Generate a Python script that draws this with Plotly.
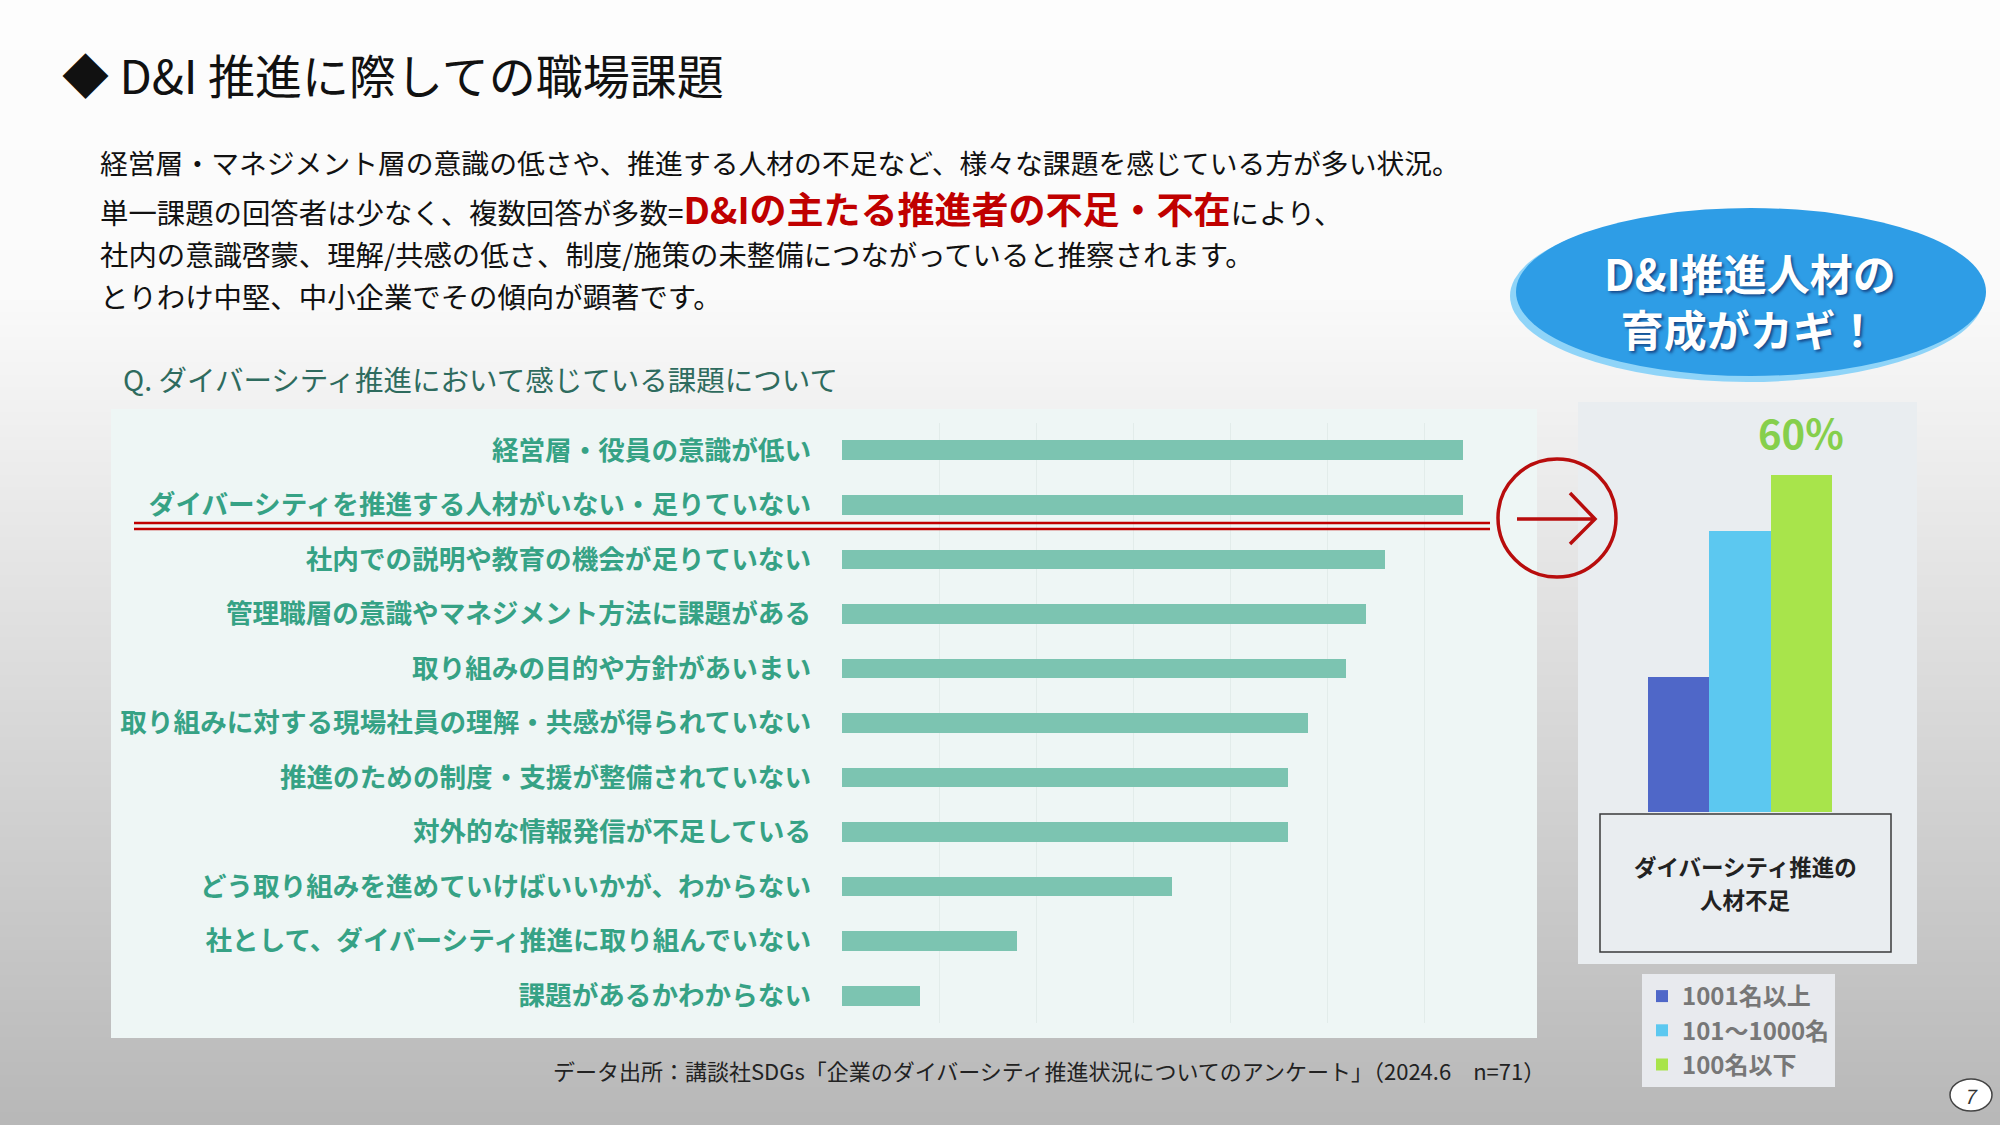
import plotly.graph_objects as go

W, H = 2000, 1125
FONT = "Noto Sans CJK JP"

# main chart: issues felt when promoting diversity (respondent counts, n=71)
issues = [
    "経営層・役員の意識が低い",
    "ダイバーシティを推進する人材がいない・足りていない",
    "社内での説明や教育の機会が足りていない",
    "管理職層の意識やマネジメント方法に課題がある",
    "取り組みの目的や方針があいまい",
    "取り組みに対する現場社員の理解・共感が得られていない",
    "推進のための制度・支援が整備されていない",
    "対外的な情報発信が不足している",
    "どう取り組みを進めていけばいいかが、わからない",
    "社として、ダイバーシティ推進に取り組んでいない",
    "課題があるかわからない",
]
issue_counts = [32, 32, 28, 27, 26, 24, 23, 23, 17, 9, 4]

# side chart: "lack of D&I staff" share by company size
size_groups = ["1001名以上", "101～1000名", "100名以下"]
size_share = [24, 50, 60]
size_colors = ["#4f67c8", "#5cc8f0", "#a8e44b"]


def X(px):
    return px / W


def Y(py):
    return 1 - py / H


fig = go.Figure()

fig.add_trace(go.Bar(
    x=issue_counts, y=issues, orientation="h", width=0.36,
    marker=dict(color="#7cc4b1", line=dict(width=0)),
    showlegend=False, hoverinfo="x+y"))

for grp, val, col in zip(size_groups, size_share, size_colors):
    fig.add_trace(go.Bar(
        x=[grp], y=[val], width=1, xaxis="x2", yaxis="y2", name=grp,
        marker=dict(color=col, line=dict(width=0))))

shapes = []
# page background: vertical grey gradient
n_band = 90
for i in range(n_band):
    y0 = i * H / n_band
    y1 = (i + 1) * H / n_band + 1
    ym = (y0 + y1) / 2
    if ym < 300:
        g = 253 - ym * 3 / 300
    else:
        g = 250 - (ym - 300) * 66 / 825
    g = int(round(g))
    shapes.append(dict(type="rect", xref="paper", yref="paper", x0=0, x1=1,
                       y0=Y(y1), y1=Y(y0), fillcolor=f"rgb({g},{g},{g})",
                       line=dict(width=0), layer="below"))

# chart panels
shapes.append(dict(type="rect", xref="paper", yref="paper", x0=X(111), x1=X(1537),
                   y0=Y(1038), y1=Y(409), fillcolor="#eef6f5", line=dict(width=0), layer="below"))
shapes.append(dict(type="rect", xref="paper", yref="paper", x0=X(1578), x1=X(1917),
                   y0=Y(964), y1=Y(402), fillcolor="#e9edf0", line=dict(width=0), layer="below"))
shapes.append(dict(type="rect", xref="paper", yref="paper", x0=X(1600), x1=X(1891),
                   y0=Y(952), y1=Y(814), fillcolor="rgba(0,0,0,0)",
                   line=dict(color="#3a3a3a", width=1.5)))

# red double underline + circled arrow
for yy in (523, 529):
    shapes.append(dict(type="line", xref="paper", yref="paper", x0=X(134), x1=X(1490),
                       y0=Y(yy), y1=Y(yy), line=dict(color="#c00000", width=2.5)))
shapes.append(dict(type="circle", xref="paper", yref="paper", x0=X(1498), x1=X(1616),
                   y0=Y(577), y1=Y(459), line=dict(color="#b80d0d", width=3.5)))
shapes.append(dict(type="path", xref="paper", yref="paper",
                   path=f"M{X(1517)},{Y(519)} L{X(1595)},{Y(519)} "
                        f"M{X(1570)},{Y(493)} L{X(1595)},{Y(519)} L{X(1570)},{Y(544)}",
                   line=dict(color="#b80d0d", width=3.5)))

# blue callout ellipse
shapes.append(dict(type="circle", xref="paper", yref="paper", x0=X(1510), x1=X(1984),
                   y0=Y(382), y1=Y(210), fillcolor="#8fd4f8", line=dict(width=0)))
shapes.append(dict(type="circle", xref="paper", yref="paper", x0=X(1516), x1=X(1986),
                   y0=Y(376), y1=Y(208), fillcolor="#2e9de6", line=dict(width=0)))

# page number
shapes.append(dict(type="circle", xref="paper", yref="paper", x0=X(1950), x1=X(1992),
                   y0=Y(1111), y1=Y(1079), fillcolor="white", line=dict(color="#444", width=1.5)))


def note(text, px, py, size, color="#111", xanchor="left", **kw):
    return dict(text=text, x=X(px), y=Y(py), xref="paper", yref="paper",
                xanchor=xanchor, yanchor="middle", showarrow=False,
                font=dict(size=size, color=color, **kw))


annotations = [
    note("◆ D&I 推進に際しての職場課題", 60, 73, 47),
    note("経営層・マネジメント層の意識の低さや、推進する人材の不足など、様々な課題を感じている方が多い状況。",
         98, 162, 27.8),
    note("単一課題の回答者は少なく、複数回答が多数="
         "<span style='color:#c00000;font-size:37px'><b>D&Iの主たる推進者の不足・不在</b></span>により、",
         98, 208, 28.4),
    note("社内の意識啓蒙、理解/共感の低さ、制度/施策の未整備につながっていると推察されます。", 98, 253, 28.4),
    note("とりわけ中堅、中小企業でその傾向が顕著です。", 98, 295, 28.4),
    note("Q. ダイバーシティ推進において感じている課題について", 121, 378, 28.5, color="#2e6b5e"),
    note("データ出所：講談社SDGs「企業のダイバーシティ推進状況についてのアンケート」（2024.6　n=71）",
         1547, 1070, 22, color="#222", xanchor="right"),
    note("<b>D&I推進人材の<br>育成がカギ！</b>", 1750, 300, 43, color="white", xanchor="center",
         shadow="2px 2px 3px rgba(0,0,60,0.55)"),
    note("<b>ダイバーシティ推進の</b>", 1745, 866, 22.5, color="#222", xanchor="center"),
    note("<b>人材不足</b>", 1745, 899, 22.5, color="#222", xanchor="center"),
    note("<i>7</i>", 1971, 1095, 20, color="#333", xanchor="center"),
    dict(text="<b>60%</b>", x=size_groups[2], y=size_share[2], xref="x2", yref="y2",
         xanchor="center", yanchor="bottom", yshift=12,
         font=dict(size=40, color="#86cf4c"), showarrow=False),
]

fig.update_layout(
    width=W, height=H,
    margin=dict(l=0, r=0, t=0, b=0),
    paper_bgcolor="white", plot_bgcolor="rgba(0,0,0,0)",
    font=dict(family=FONT),
    bargap=0,
    xaxis=dict(domain=[X(842), X(1521)], range=[0, 35], dtick=5, showticklabels=False,
               showgrid=True, gridcolor="#e2ecea", gridwidth=1, zeroline=False, fixedrange=True),
    yaxis=dict(domain=[Y(1023), Y(423)], autorange="reversed", showgrid=False,
               ticklabelstandoff=30, ticks="",
               tickfont=dict(size=26.6, color="#36a285", weight="bold")),
    xaxis2=dict(domain=[X(1648), X(1832)], range=[-0.5, 2.5], anchor="y2",
                showticklabels=False, showgrid=False, zeroline=False),
    yaxis2=dict(domain=[Y(812), Y(419.4)], range=[0, 70], anchor="x2",
                showticklabels=False, showgrid=False, zeroline=False),
    legend=dict(x=X(1642), y=Y(974), xanchor="left", yanchor="top",
                bgcolor="#e8eaee", font=dict(size=24, color="#777", weight="bold"),
                itemwidth=30, tracegroupgap=0, traceorder="normal"),
    shapes=shapes,
    annotations=annotations,
)

fig.write_html("out.html", config={"displayModeBar": False},
               post_script="document.body.style.margin='0';")
